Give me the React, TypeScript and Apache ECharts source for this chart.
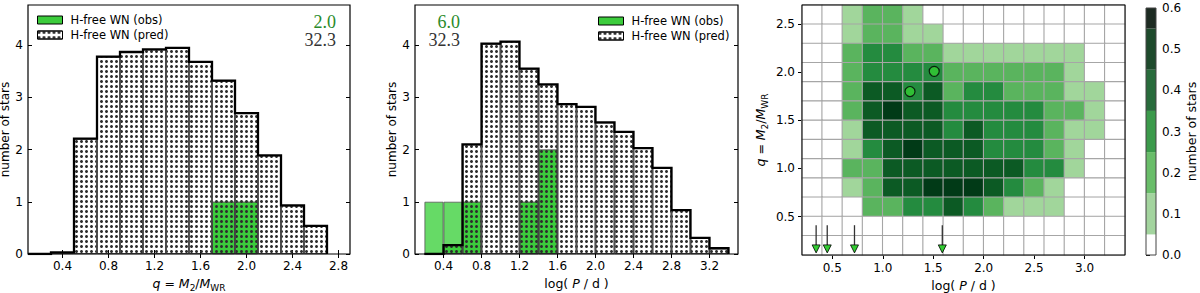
import React, { useEffect, useRef } from 'react';
import * as echarts from 'echarts';

// ---------------- data ----------------
const qBins = [0.2, 0.4, 0.6, 0.8, 1.0, 1.2, 1.4, 1.6, 1.8, 2.0, 2.2, 2.4, 2.6];
const qPred = [0, 0.03, 2.21, 3.78, 3.87, 3.92, 3.95, 3.68, 3.32, 2.7, 1.89, 0.93, 0.54];
const qObs = [0, 0, 0, 0, 0, 0, 0, 0, 1, 1, 0, 0, 0];
const qTicks = [0.4, 0.8, 1.2, 1.6, 2.0, 2.4, 2.8];

const pBins = [0.3, 0.5, 0.7, 0.9, 1.1, 1.3, 1.5, 1.7, 1.9, 2.1, 2.3, 2.5, 2.7, 2.9, 3.1, 3.3];
const pPred = [0, 0.17, 2.1, 4.03, 4.07, 3.55, 3.25, 2.87, 2.82, 2.52, 2.34, 2.03, 1.65, 0.84, 0.31, 0.11];
const pObs = [1, 1, 1, 0, 0, 1, 2, 0, 0, 0, 0, 0, 0, 0, 0, 0];
const pTicks = [0.4, 0.8, 1.2, 1.6, 2.0, 2.4, 2.8, 3.2];

const countTicks = [0, 1, 2, 3, 4];
const obsTotals = ['2.0', '6.0'];
const predTotals = ['32.3', '32.3'];

const heatX = [0.3, 0.5, 0.7, 0.9, 1.1, 1.3, 1.5, 1.7, 1.9, 2.1, 2.3, 2.5, 2.7, 2.9, 3.1, 3.3];
const heatY = [0.2, 0.4, 0.6, 0.8, 1.0, 1.2, 1.4, 1.6, 1.8, 2.0, 2.2, 2.4, 2.6];
// rows listed from top (q = 2.6) to bottom (q = 0.2)
const heatRows = [
  [0, 0, 0.1, 0.2, 0.2, 0.1, 0, 0, 0, 0, 0, 0, 0, 0, 0, 0],
  [0, 0, 0.1, 0.2, 0.2, 0.1, 0.1, 0, 0, 0, 0, 0, 0, 0, 0, 0],
  [0, 0, 0.2, 0.3, 0.3, 0.2, 0.2, 0.1, 0.1, 0.1, 0.1, 0.1, 0.1, 0.1, 0, 0],
  [0, 0, 0.2, 0.3, 0.3, 0.3, 0.3, 0.2, 0.2, 0.2, 0.2, 0.2, 0.2, 0.1, 0, 0],
  [0, 0, 0.2, 0.4, 0.4, 0.3, 0.4, 0.2, 0.3, 0.3, 0.2, 0.2, 0.2, 0.1, 0.1, 0],
  [0, 0, 0.2, 0.4, 0.5, 0.4, 0.4, 0.3, 0.3, 0.3, 0.3, 0.3, 0.2, 0.2, 0.1, 0],
  [0, 0, 0.1, 0.4, 0.4, 0.4, 0.4, 0.3, 0.4, 0.3, 0.3, 0.3, 0.2, 0.1, 0.1, 0],
  [0, 0, 0.1, 0.3, 0.4, 0.5, 0.4, 0.4, 0.4, 0.3, 0.3, 0.3, 0.2, 0.1, 0, 0],
  [0, 0, 0.2, 0.2, 0.4, 0.4, 0.4, 0.4, 0.4, 0.4, 0.4, 0.3, 0.3, 0.1, 0, 0],
  [0, 0, 0.1, 0.2, 0.4, 0.4, 0.5, 0.5, 0.5, 0.4, 0.3, 0.2, 0.1, 0, 0, 0],
  [0, 0, 0, 0.2, 0.2, 0.3, 0.3, 0.4, 0.3, 0.2, 0.1, 0.1, 0.1, 0, 0, 0],
  [0, 0, 0, 0, 0, 0, 0, 0, 0, 0, 0, 0, 0, 0, 0, 0],
  [0, 0, 0, 0, 0, 0, 0, 0, 0, 0, 0, 0, 0, 0, 0, 0],
];
const heatTicksX = [0.5, 1.0, 1.5, 2.0, 2.5, 3.0];
const heatTicksY = [0.5, 1.0, 1.5, 2.0, 2.5];
const heatLevelEdges = [0.05, 0.15, 0.25, 0.35, 0.45, 0.55];
const heatLevelColors = ['#ffffff', '#a1d69b', '#5ab45e', '#248b3f', '#0c5a24', '#013a17', '#00250f'];

const obsPoints = [
  [1.27, 1.8],
  [1.51, 2.01],
];
const obsArrowsLogP = [0.34, 0.45, 0.72, 1.59];

const cbEdges = [0, 0.05, 0.15, 0.25, 0.35, 0.45, 0.55, 0.6];
const cbColors = ['#ffffff', '#a3d49e', '#69bd69', '#3b9a4b', '#286b3b', '#1e4a2c', '#1d2b22'];
const cbTicks = [0, 0.1, 0.2, 0.3, 0.4, 0.5, 0.6];

// ---------------- styles ----------------
const FONT = 'DejaVu Sans';
const SERIF = 'Liberation Serif';
const GREEN = '#3ccc3c';
const GREEN_LIGHT = '#66da66';
const BIN_W = 0.2;
const ARROW_TOP = 0.41;
const ARROW_BASE = 0.205;

const dotDecal = {
  symbol: 'circle',
  symbolSize: 1,
  color: '#2e2e2e',
  dashArrayX: [2.4, 1.6],
  dashArrayY: [2.4, 1.9],
};

const richName = {
  n: { fontSize: 12.5, fontFamily: FONT, color: '#000', lineHeight: 18 },
  i: { fontSize: 12.5, fontFamily: FONT, fontStyle: 'italic', color: '#000', lineHeight: 18 },
  s: { fontSize: 9, fontFamily: FONT, color: '#000', verticalAlign: 'bottom', lineHeight: 9 },
};
const qName = '{i|q}{n| = }{i|M}{s|2}{n|/}{i|M}{s|WR}';
const pName = '{n|log( }{i|P}{n| / d )}';

function stepLine(centers: number[], vals: number[]) {
  const pts: number[][] = [[centers[0] - BIN_W / 2, 0]];
  centers.forEach((c, i) => {
    pts.push([c - BIN_W / 2, vals[i]]);
    pts.push([c + BIN_W / 2, vals[i]]);
  });
  pts.push([centers[centers.length - 1] + BIN_W / 2, 0]);
  return pts;
}

function histSeries(centers: number[], obs: number[], pred: number[], ax: number) {
  const obsAll = centers.map((c, i) => [c, obs[i]]).filter((d) => d[1] > 0);
  const obsIn = centers.map((c, i) => [c, Math.min(obs[i], pred[i])]).filter((d) => d[1] > 0);
  const common = { xAxisIndex: ax, yAxisIndex: ax, barWidth: '100%', barGap: '-100%', silent: true };
  return [
    {
      ...common,
      type: 'bar',
      name: 'obs-light',
      data: obsAll,
      itemStyle: { color: GREEN_LIGHT, borderColor: '#555', borderWidth: 0.8 },
    },
    {
      ...common,
      type: 'bar',
      name: 'H-free WN (obs)',
      data: obsIn,
      itemStyle: { color: GREEN, borderColor: '#555', borderWidth: 0.8 },
    },
    {
      ...common,
      type: 'bar',
      name: 'H-free WN (pred)',
      data: centers.map((c, i) => [c, pred[i]]),
      itemStyle: { color: 'rgba(255,255,255,0)', borderColor: '#444', borderWidth: 0.8, decal: dotDecal },
    },
    {
      type: 'line',
      name: 'outline',
      xAxisIndex: ax,
      yAxisIndex: ax,
      data: stepLine(centers, pred),
      showSymbol: false,
      silent: true,
      z: 5,
      lineStyle: { color: '#000', width: 2.3, join: 'miter' },
    },
  ];
}

function histAxes(min: number, max: number, ticks: number[], gridIndex: number, name: string, yNameGap: number) {
  const labelStyle = { fontSize: 12, fontFamily: FONT, color: '#000' };
  const xBottom = {
    type: 'value',
    gridIndex,
    min,
    max,
    position: 'bottom',
    splitLine: { show: false },
    axisLine: { show: false },
    axisTick: { show: true, inside: true, length: 4, customValues: ticks, lineStyle: { color: '#000', width: 1 } },
    axisLabel: { customValues: ticks, margin: 6, ...labelStyle, formatter: (v: number) => v.toFixed(1) },
    name,
    nameLocation: 'middle',
    nameGap: 20,
    nameTextStyle: { rich: richName },
  };
  const xTop = {
    type: 'value',
    gridIndex,
    min,
    max,
    position: 'top',
    splitLine: { show: false },
    axisLine: { show: false },
    axisTick: { show: true, inside: true, length: 4, customValues: ticks, lineStyle: { color: '#000' } },
    axisLabel: { show: false },
  };
  const yLeft = {
    type: 'value',
    gridIndex,
    min: 0,
    max: 4.77,
    position: 'left',
    splitLine: { show: false },
    axisLine: { show: false },
    axisTick: { show: true, inside: true, length: 4, customValues: countTicks, lineStyle: { color: '#000' } },
    axisLabel: { customValues: countTicks, margin: 5, ...labelStyle },
    name: 'number of stars',
    nameLocation: 'middle',
    nameRotate: 90,
    nameGap: yNameGap,
    nameTextStyle: { fontSize: 12, lineHeight: 13, fontFamily: FONT, color: '#000' },
  };
  const yRight = {
    type: 'value',
    gridIndex,
    min: 0,
    max: 4.77,
    position: 'right',
    splitLine: { show: false },
    axisLine: { show: false },
    axisTick: { show: true, inside: true, length: 4, customValues: countTicks, lineStyle: { color: '#000' } },
    axisLabel: { show: false },
  };
  return { x: [xBottom, xTop], y: [yLeft, yRight] };
}

export default function App() {
  const ref = useRef<HTMLDivElement>(null);

  useEffect(() => {
    if (!ref.current) return;
    const chart = echarts.init(ref.current, null, { renderer: 'svg' });

    const a0 = histAxes(0.1, 2.9, qTicks, 0, qName, 12);
    const a1 = histAxes(0.1, 3.5, pTicks, 1, pName, 15);
    const labelStyle = { fontSize: 12, fontFamily: FONT, color: '#000' };

    const heatData: number[][] = [];
    heatRows.forEach((row, r) => {
      const yi = heatY.length - 1 - r;
      row.forEach((v, xi) => heatData.push([xi, yi, v]));
    });

    const pieces = [{ lt: heatLevelEdges[0], color: heatLevelColors[0] }] as any[];
    heatLevelEdges.forEach((e, i) => {
      const next = heatLevelEdges[i + 1];
      pieces.push(next === undefined ? { gte: e, color: heatLevelColors[i + 1] } : { gte: e, lt: next, color: heatLevelColors[i + 1] });
    });

    const cbBands = cbEdges.slice(0, -1).map((lo, i) => [lo, cbEdges[i + 1], i]);

    const xAxes: any[] = [
      a0.x[0], // 0
      a0.x[1], // 1
      a1.x[0], // 2
      a1.x[1], // 3
      { type: 'category', gridIndex: 2, data: heatX.map(String), show: false }, // 4
      {
        type: 'value',
        gridIndex: 2,
        min: 0.2,
        max: 3.4,
        position: 'bottom',
        splitLine: { show: false },
        axisLine: { show: false },
        axisTick: { show: true, inside: false, length: 4, customValues: heatTicksX, lineStyle: { color: '#000' } },
        axisLabel: { customValues: heatTicksX, margin: 7, ...labelStyle, formatter: (v: number) => v.toFixed(1) },
        name: pName,
        nameLocation: 'middle',
        nameGap: 20,
        nameTextStyle: { rich: richName },
      }, // 5
      { type: 'value', gridIndex: 3, min: 0, max: 1, show: false }, // 6
    ];
    const yAxes: any[] = [
      a0.y[0],
      a0.y[1],
      a1.y[0],
      a1.y[1],
      { type: 'category', gridIndex: 2, data: heatY.map(String), show: false },
      {
        type: 'value',
        gridIndex: 2,
        min: 0.1,
        max: 2.7,
        position: 'left',
        splitLine: { show: false },
        axisLine: { show: false },
        axisTick: { show: true, inside: false, length: 4, customValues: heatTicksY, lineStyle: { color: '#000' } },
        axisLabel: { customValues: heatTicksY, margin: 7, ...labelStyle, formatter: (v: number) => v.toFixed(1) },
        name: qName,
        nameLocation: 'middle',
        nameRotate: 90,
        nameGap: 33,
        nameTextStyle: { rich: richName },
      },
      {
        type: 'value',
        gridIndex: 3,
        min: 0,
        max: 0.6,
        position: 'right',
        splitLine: { show: false },
        axisLine: { show: false },
        axisTick: { show: true, inside: false, length: 4, customValues: cbTicks, lineStyle: { color: '#000' } },
        axisLabel: { customValues: cbTicks, margin: 6, ...labelStyle, formatter: (v: number) => v.toFixed(1) },
        name: 'number of stars',
        nameLocation: 'middle',
        nameRotate: 90,
        nameGap: 29,
        nameTextStyle: { fontSize: 12.5, fontFamily: FONT, color: '#000' },
      },
    ];

    const series: any[] = [
      ...histSeries(qBins, qObs, qPred, 0),
      ...histSeries(pBins, pObs, pPred, 2),
      {
        type: 'heatmap',
        xAxisIndex: 4,
        yAxisIndex: 4,
        data: heatData,
        silent: true,
        itemStyle: { borderColor: '#a6a6a6', borderWidth: 1.1 },
        emphasis: { disabled: true },
      },
      {
        type: 'scatter',
        xAxisIndex: 5,
        yAxisIndex: 5,
        data: obsPoints,
        symbol: 'circle',
        symbolSize: 10,
        silent: true,
        z: 6,
        itemStyle: { color: '#33cc33', borderColor: '#000', borderWidth: 1.2 },
      },
      {
        type: 'custom',
        xAxisIndex: 5,
        yAxisIndex: 5,
        data: obsArrowsLogP.map((x) => [x, ARROW_TOP]),
        silent: true,
        z: 6,
        renderItem: (_p: any, api: any) => {
          const x = api.value(0);
          const top = api.coord([x, ARROW_TOP]);
          const base = api.coord([x, ARROW_BASE]);
          return {
            type: 'group',
            children: [
              { type: 'line', shape: { x1: top[0], y1: top[1], x2: base[0], y2: base[1] }, style: { stroke: '#333', lineWidth: 1.3 } },
              {
                type: 'polygon',
                shape: { points: [[base[0] - 4, base[1]], [base[0] + 4, base[1]], [base[0], base[1] + 8]] },
                style: { fill: '#33cc33', stroke: '#000', lineWidth: 0.8 },
              },
            ],
          };
        },
      },
      {
        type: 'custom',
        xAxisIndex: 6,
        yAxisIndex: 6,
        data: cbBands,
        silent: true,
        clip: false,
        encode: { x: -1, y: [0, 1] },
        renderItem: (p: any, api: any) => {
          const lo = api.value(0);
          const hi = api.value(1);
          const p0 = api.coord([0, lo]);
          const p1 = api.coord([1, hi]);
          return {
            type: 'rect',
            shape: { x: p0[0], y: p1[1], width: p1[0] - p0[0], height: p0[1] - p1[1] },
            style: { fill: cbColors[p.dataIndex], stroke: 'none' },
          };
        },
      },
    ];
    const heatIdx = series.findIndex((s) => s.type === 'heatmap');

    const legendCommon = {
      orient: 'vertical',
      itemWidth: 25,
      itemHeight: 8,
      itemGap: 3,
      padding: 0,
      selectedMode: false,
      icon: 'rect',
      data: ['H-free WN (obs)', 'H-free WN (pred)'],
      itemStyle: { borderColor: '#000', borderWidth: 1 },
      textStyle: { fontSize: 11.5, fontFamily: FONT, color: '#000', padding: [0, 0, 0, 3] },
    };

    const totalText = (x: number, y: number, text: string, fill: string) => ({
      type: 'text',
      x,
      y,
      z: 20,
      style: { text, fill, fontSize: 18, fontFamily: SERIF, align: 'right', verticalAlign: 'middle' },
    });

    const gridCommon = { show: true, z: 10, backgroundColor: 'transparent', containLabel: false, outerBoundsMode: 'none' };

    chart.setOption({
      animation: false,
      textStyle: { fontFamily: FONT },
      grid: [
        { ...gridCommon, left: 28, top: 5, width: 322, height: 249, borderColor: '#000', borderWidth: 1.2 },
        { ...gridCommon, left: 415, top: 5, width: 323, height: 249, borderColor: '#000', borderWidth: 1.2 },
        { ...gridCommon, left: 802, top: 5, width: 323, height: 250, borderColor: '#000', borderWidth: 1 },
        { ...gridCommon, left: 1146, top: 8, width: 10, height: 247, borderColor: '#444', borderWidth: 1 },
      ],
      xAxis: xAxes,
      yAxis: yAxes,
      legend: [
        { ...legendCommon, left: 37, top: 14 },
        { ...legendCommon, left: 598, top: 15 },
      ],
      visualMap: {
        type: 'piecewise',
        show: false,
        seriesIndex: heatIdx,
        dimension: 2,
        pieces,
      },
      graphic: [
        totalText(336, 22, obsTotals[0], '#2a8a2a'),
        totalText(336, 40, predTotals[0], '#333333'),
        totalText(460, 22, obsTotals[1], '#2a8a2a'),
        totalText(460, 40, predTotals[1], '#333333'),
      ],
      series,
    });

    return () => chart.dispose();
  }, []);

  return <div ref={ref} style={{ position: 'fixed', left: 0, top: 0, width: 1200, height: 293, background: '#fff' }} />;
}
